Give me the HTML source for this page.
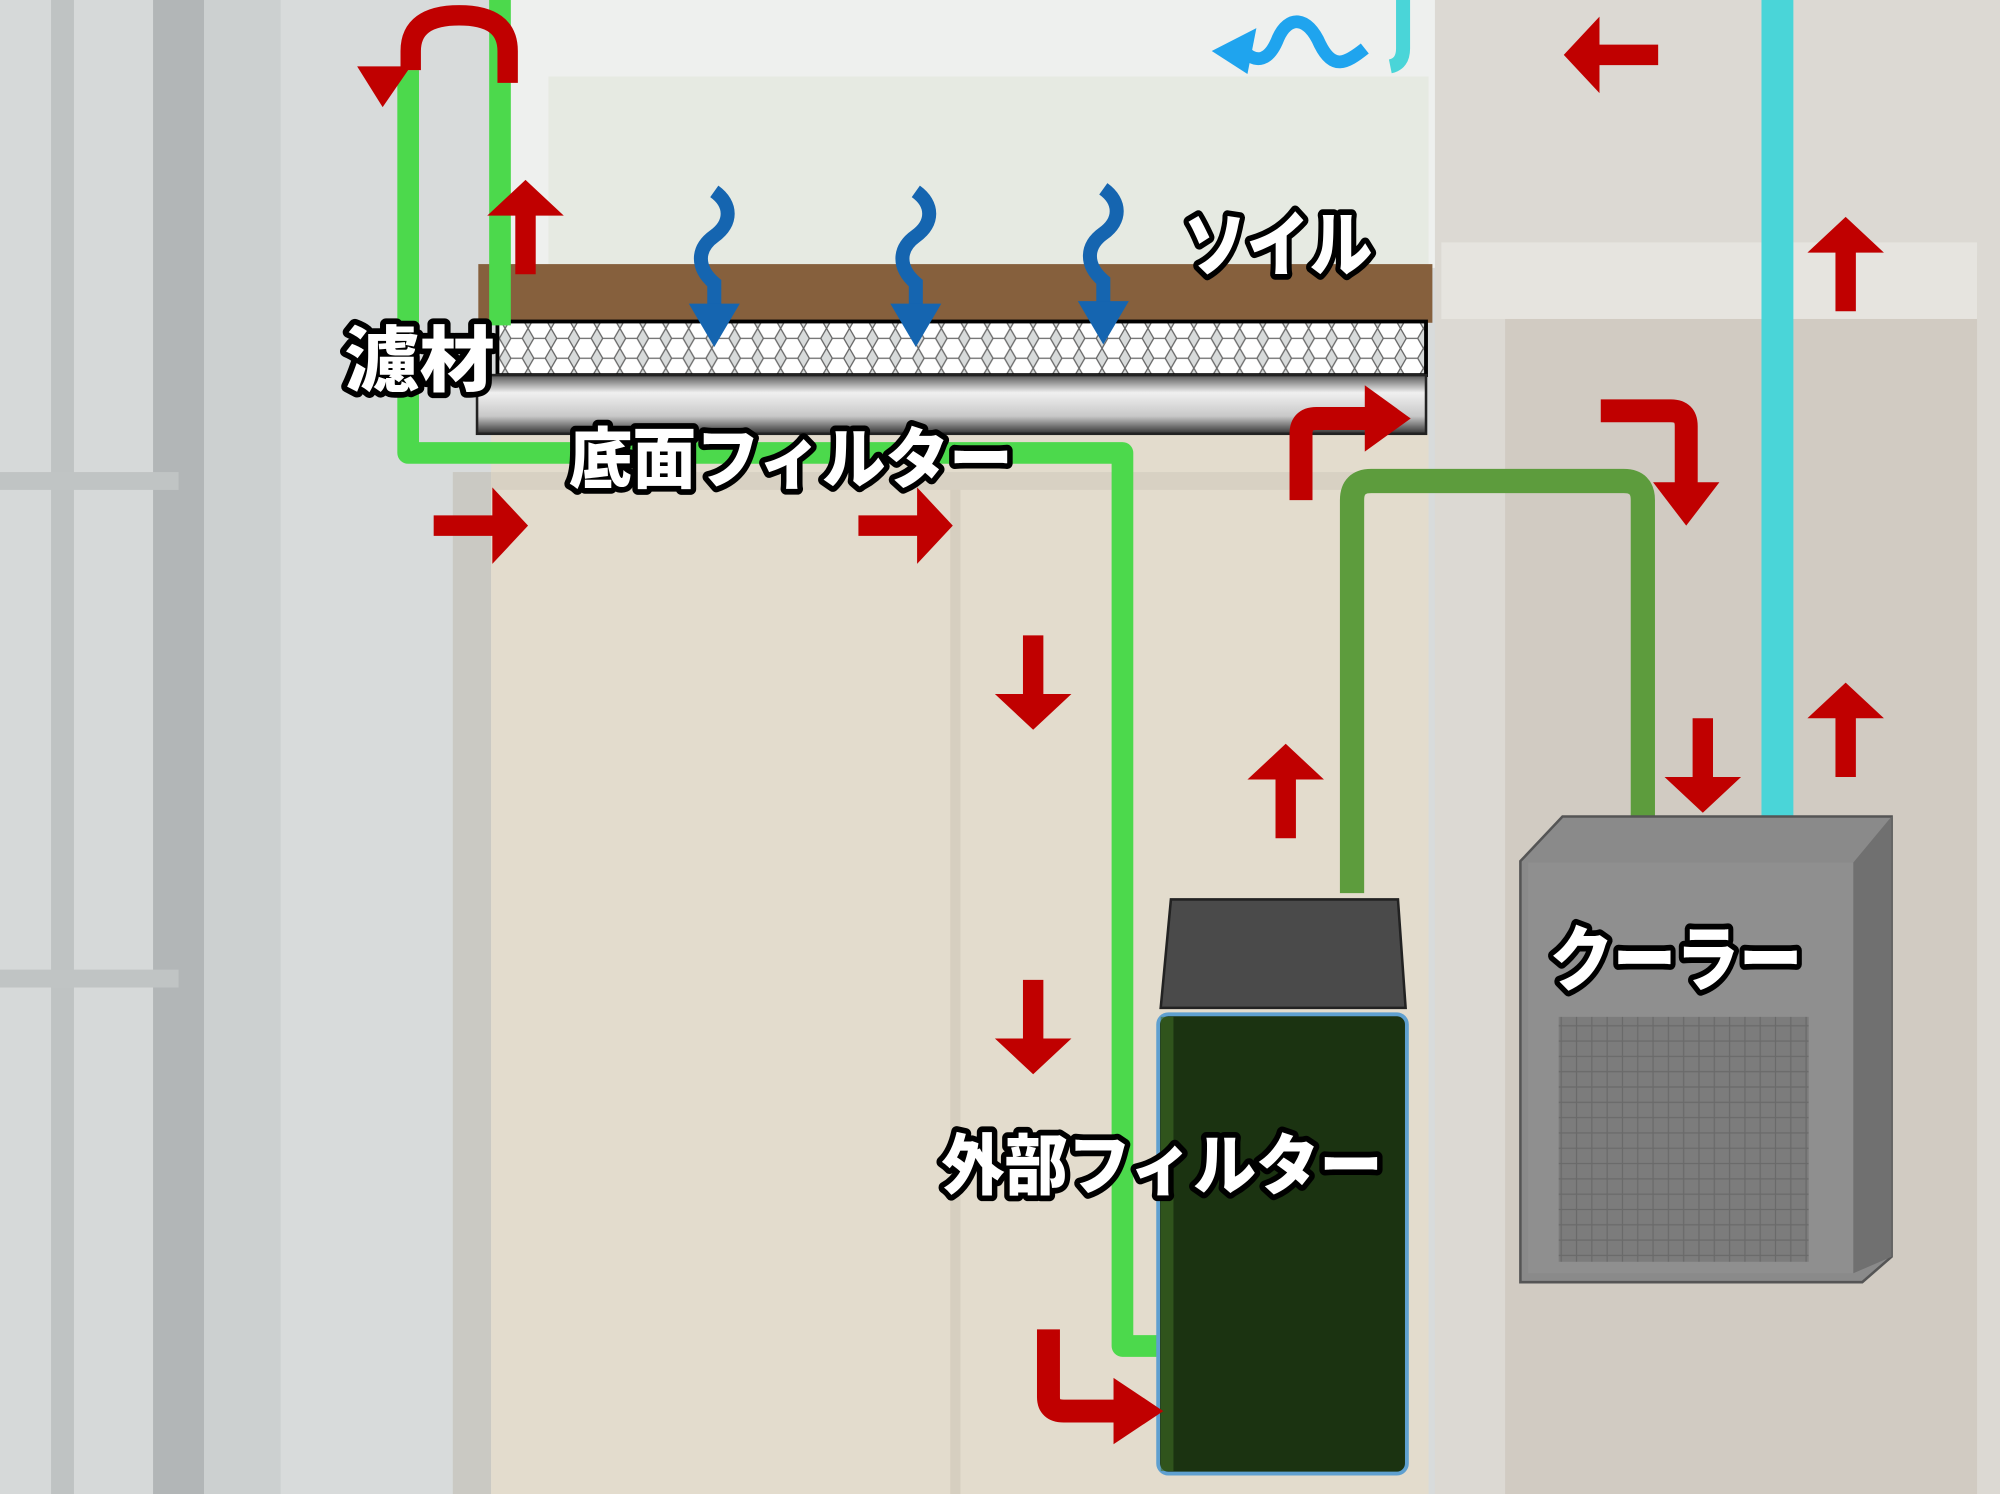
<!DOCTYPE html>
<html><head><meta charset="utf-8"><style>
html,body{margin:0;padding:0;width:2000px;height:1494px;overflow:hidden;background:#d9dcdb}
svg{display:block}
.t{font-family:"Liberation Sans","Noto Sans CJK JP",sans-serif;font-weight:900;fill:#fff;stroke:#000;stroke-width:9;paint-order:stroke;stroke-linejoin:round}
</style></head><body>
<svg width="2000" height="1494" viewBox="0 0 1568 1171" preserveAspectRatio="none" xmlns="http://www.w3.org/2000/svg">
<defs>
<pattern id="hex" width="18" height="15.6" patternUnits="userSpaceOnUse">
<path d="M0,7.8 L4.5,0 L13.5,0 L18,7.8 L13.5,15.6 L4.5,15.6 Z" fill="#fff" stroke="#666" stroke-width="1"/>
</pattern>
<pattern id="grid" width="12" height="12" patternUnits="userSpaceOnUse">
<rect width="12" height="12" fill="#7c7c7c" stroke="#6a6a6a" stroke-width="1"/>
</pattern>
<linearGradient id="plate" x1="0" y1="0" x2="0" y2="1">
<stop offset="0" stop-color="#555"/><stop offset="0.3" stop-color="#f0f0f0"/><stop offset="0.7" stop-color="#c8c8c8"/><stop offset="1" stop-color="#333"/>
</linearGradient>
<path id="ar" d="M0,-8 L46,-8 L46,-30 L74,0 L46,30 L46,8 L0,8 Z" fill="#c00000"/>
<path id="bs" d="M0,0 C14,10 14,25 0,35 C-14,45 -14,60 0,72 L0,92" fill="none" stroke="#1565b0" stroke-width="11"/>
</defs>
<rect width="1568" height="1171" fill="#d8dbdb"/>
<rect x="0" y="0" width="160" height="1171" fill="#d6d9d9"/>
<rect x="40" y="0" width="18" height="1171" fill="#bfc3c3"/>
<rect x="120" y="0" width="40" height="1171" fill="#b2b6b7"/>
<rect x="160" y="0" width="60" height="1171" fill="#ccd0d0"/>
<rect x="0" y="370" width="140" height="14" fill="#c0c4c4"/>
<rect x="0" y="760" width="140" height="14" fill="#c0c4c4"/>
<rect x="355" y="370" width="30" height="801" fill="#cac9c3"/>
<rect x="400" y="0" width="725" height="210" fill="#eef0ee"/>
<rect x="430" y="60" width="690" height="150" fill="#e3e9df" opacity="0.8"/>
<rect x="1125" y="0" width="443" height="1171" fill="#dcd9d3"/>
<rect x="1180" y="200" width="370" height="971" fill="#d1cbc2"/>
<rect x="1130" y="190" width="420" height="60" fill="#e6e4df"/>
<rect x="385" y="340" width="735" height="831" fill="#e3dccd"/>
<rect x="745" y="380" width="8" height="791" fill="#d6cfc0"/>
<rect x="385" y="370" width="735" height="14" fill="#d8d1c3"/>
<rect x="375" y="207" width="748" height="46" fill="#86603d"/>
<rect x="390" y="252" width="728" height="42" fill="url(#hex)" stroke="#000" stroke-width="3"/>
<rect x="374" y="294" width="744" height="46" fill="url(#plate)" stroke="#222" stroke-width="2"/>
<path d="M320,55 L320,355 L880,355 L880,1055 L915,1055" fill="none" stroke="#4cd94c" stroke-width="17" stroke-linejoin="round"/>
<path d="M392,0 L392,255" fill="none" stroke="#4cd94c" stroke-width="17"/>
<path d="M1060,700 L1060,392 Q1060,377 1075,377 L1273,377 Q1288,377 1288,392 L1288,655" fill="none" stroke="#5d9c3d" stroke-width="19"/>
<rect x="1381" y="0" width="25" height="657" fill="#4ad5d8"/>
<path d="M1100,0 L1100,38 Q1100,50 1090,52" fill="none" stroke="#4ad5d8" stroke-width="11"/>
<path d="M1070,38 C1055,50 1045,55 1035,35 C1025,12 1010,12 1002,30 C995,48 985,50 975,40" fill="none" stroke="#1fa4ee" stroke-width="10"/>
<path d="M950,40 L985,22 L978,58 Z" fill="#1fa4ee"/>
<path d="M918,705 L1096,705 L1102,790 L910,790 Z" fill="#4a4a4a" stroke="#222" stroke-width="2"/>
<rect x="908" y="795" width="195" height="360" rx="8" fill="#1b3311" stroke="#5fa0d0" stroke-width="3"/>
<rect x="910" y="797" width="10" height="356" fill="#3f6b25" opacity="0.6"/>
<path d="M1192,675 L1225,640 L1483,640 L1483,985 L1460,1005 L1192,1005 Z" fill="#8a8a8a" stroke="#555" stroke-width="2"/>
<rect x="1198" y="676" width="255" height="322" fill="#8f8f8f"/>
<path d="M1453,676 L1483,640 L1483,985 L1453,998 Z" fill="#707070"/>
<rect x="1222" y="797" width="196" height="192" fill="url(#grid)"/>
<use href="#bs" x="560" y="150"/><path d="M540,238 L580,238 L560,272 Z" fill="#1565b0"/>
<use href="#bs" x="718" y="150"/><path d="M698,238 L738,238 L718,272 Z" fill="#1565b0"/>
<use href="#bs" x="865" y="148"/><path d="M845,236 L885,236 L865,270 Z" fill="#1565b0"/>
<use href="#ar" transform="translate(340,412)"/>
<use href="#ar" transform="translate(673,412)"/>
<use href="#ar" transform="translate(810,498) rotate(90)"/>
<use href="#ar" transform="translate(810,768) rotate(90)"/>
<use href="#ar" transform="translate(1008,657) rotate(-90)"/>
<use href="#ar" transform="translate(1335,563) rotate(90)"/>
<use href="#ar" transform="translate(1447,609) rotate(-90)"/>
<use href="#ar" transform="translate(1447,244) rotate(-90)"/>
<use href="#ar" transform="translate(1300,43) rotate(180)"/>
<use href="#ar" transform="translate(412,215) rotate(-90)"/>
<path d="M1020,392 L1020,340 Q1020,328 1032,328 L1075,328" fill="none" stroke="#c00000" stroke-width="18"/>
<path d="M1070,302 L1106,328 L1070,354 Z" fill="#c00000"/>
<path d="M1255,322 L1310,322 Q1322,322 1322,334 L1322,385" fill="none" stroke="#c00000" stroke-width="18"/>
<path d="M1296,378 L1322,412 L1348,378 Z" fill="#c00000"/>
<path d="M822,1042 L822,1095 Q822,1106 834,1106 L880,1106" fill="none" stroke="#c00000" stroke-width="18"/>
<path d="M873,1080 L912,1106 L873,1132 Z" fill="#c00000"/>
<path d="M398,65 L398,40 Q398,12 360,12 Q322,12 322,40 L322,55" fill="none" stroke="#c00000" stroke-width="16"/>
<path d="M280,52 L322,52 L300,84 Z" fill="#c00000"/>
<text class="t" x="928" y="212" font-size="56" textLength="148" lengthAdjust="spacingAndGlyphs">ソイル</text>
<text class="t" x="270" y="302" font-size="56" textLength="118" lengthAdjust="spacingAndGlyphs">濾材</text>
<text class="t" x="446" y="378" font-size="52" textLength="348" lengthAdjust="spacingAndGlyphs">底面フィルター</text>
<text class="t" x="738" y="932" font-size="52" textLength="346" lengthAdjust="spacingAndGlyphs">外部フィルター</text>
<text class="t" x="1215" y="772" font-size="56" textLength="198" lengthAdjust="spacingAndGlyphs">クーラー</text>
</svg>
</body></html>
